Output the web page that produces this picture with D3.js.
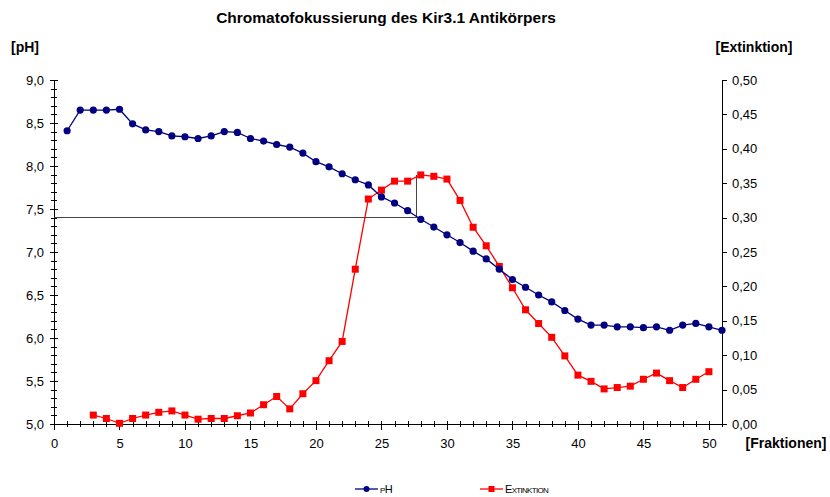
<!DOCTYPE html>
<head>
<meta charset="utf-8">
<script src="https://d3js.org/d3.v7.min.js"></script>
<style>
    *{ margin:0; padding:0; }
    body{ background:#fff; font-family:'Liberation Sans', Arial, sans-serif; }
    text{ fill:#000; }
    .axis path, .axis line{ stroke:#000; stroke-width:1; shape-rendering:crispEdges; }
    .axis text{ font-size:13px; }
</style>
</head>
<body>
<svg id="chart" width="830" height="497"></svg>
<script>

    //fractions and measured values
    let phFractions = d3.range(1, 52);
    let phValues = [8.41, 8.65, 8.65, 8.65, 8.66, 8.49, 8.42, 8.40, 8.35, 8.34,
        8.32, 8.35, 8.40, 8.39, 8.32, 8.29, 8.25, 8.22, 8.15, 8.05,
        7.99, 7.91, 7.84, 7.78, 7.64, 7.57, 7.48, 7.38, 7.29, 7.20,
        7.11, 7.01, 6.92, 6.80, 6.68, 6.59, 6.50, 6.42, 6.32, 6.22,
        6.15, 6.15, 6.13, 6.13, 6.12, 6.13, 6.09, 6.15, 6.17, 6.13, 6.09];

    let extFractions = d3.range(3, 51);
    let extValues = [0.013, 0.008, 0.001, 0.008, 0.013, 0.017, 0.019, 0.013, 0.007, 0.008,
        0.008, 0.012, 0.016, 0.028, 0.040, 0.022, 0.044, 0.063, 0.092, 0.120,
        0.225, 0.327, 0.340, 0.353, 0.353, 0.362, 0.360, 0.356, 0.325, 0.286,
        0.259, 0.229, 0.198, 0.166, 0.146, 0.126, 0.099, 0.071, 0.062, 0.051,
        0.053, 0.055, 0.065, 0.074, 0.063, 0.053, 0.065, 0.076];

    //ticks
    let xTicks = [0, 5, 10, 15, 20, 25, 30, 35, 40, 45, 50];
    let phTicks = [5.0, 5.5, 6.0, 6.5, 7.0, 7.5, 8.0, 8.5, 9.0];
    let extTicks = [0, 0.05, 0.10, 0.15, 0.20, 0.25, 0.30, 0.35, 0.40, 0.45, 0.50];

    //pH 7.4 marker
    let markPh = 7.4;
    let markFraction = 27.7;
    let markExt = 0.362;

    let svg = d3.select("#chart");

    let mLeft = 54, mRight = 722, mTop = 80, mBottom = 424;

    let x = d3.scaleLinear().domain([0, 51]).range([mLeft, mRight]);
    let yPh = d3.scaleLinear().domain([5, 9]).range([mBottom, mTop]);
    let yExt = d3.scaleLinear().domain([0, 0.5]).range([mBottom, mTop]);

    let de = d3.formatLocale({decimal: ",", thousands: ".", grouping: [3], currency: ["", "€"]});

    //left axis, minor ticks cross the line
    let gl = svg.append("g").attr("class", "axis").attr("transform", `translate(${mLeft},0)`);
    gl.call(d3.axisLeft(yPh).tickValues(d3.range(50, 91).map(d => d / 10)).tickFormat("").tickSize(3).tickSizeOuter(0));
    gl.selectAll(".tick line").attr("x1", 3);
    let glm = svg.append("g").attr("class", "axis").attr("transform", `translate(${mLeft},0)`);
    glm.call(d3.axisLeft(yPh).tickValues(phTicks).tickFormat(de.format(".1f")).tickSize(4).tickPadding(6).tickSizeOuter(0));
    glm.selectAll(".tick line").attr("x1", 4);
    glm.select(".domain").remove();

    //right axis
    let gr = svg.append("g").attr("class", "axis").attr("transform", `translate(${mRight},0)`);
    gr.call(d3.axisRight(yExt).tickValues(extTicks).tickFormat(de.format(".2f")).tickSize(5).tickPadding(5).tickSizeOuter(0));

    //bottom axis
    let gb = svg.append("g").attr("class", "axis").attr("transform", `translate(0,${mBottom})`);
    gb.call(d3.axisBottom(x).tickValues(d3.range(0, 52)).tickFormat("").tickSize(3).tickSizeOuter(0));
    gb.selectAll(".tick line").attr("y1", -3);
    let gbm = svg.append("g").attr("class", "axis").attr("transform", `translate(0,${mBottom})`);
    gbm.call(d3.axisBottom(x).tickValues(xTicks).tickSize(6).tickPadding(9).tickSizeOuter(0));
    gbm.selectAll(".tick line").attr("y1", -3);
    gbm.select(".domain").remove();

    //pH 7.4 guide lines
    svg.append("path")
        .attr("d", `M${mLeft},${yPh(markPh)}H${x(markFraction)}V${yExt(markExt)}`)
        .attr("fill", "none")
        .attr("stroke", "#444")
        .attr("stroke-width", 1)
        .attr("shape-rendering", "crispEdges");

    //extinction series
    let extData = extFractions.map((f, i) => [f, extValues[i]]);
    svg.append("path")
        .attr("d", d3.line().x(d => x(d[0])).y(d => yExt(d[1]))(extData))
        .attr("fill", "none").attr("stroke", "#ff0000").attr("stroke-width", 1.3);
    svg.selectAll("rect.ext").data(extData).enter().append("rect")
        .attr("class", "ext")
        .attr("x", d => x(d[0]) - 3.5).attr("y", d => yExt(d[1]) - 3.5)
        .attr("width", 7).attr("height", 7)
        .attr("fill", "#ff0000");

    //pH series
    let phData = phFractions.map((f, i) => [f, phValues[i]]);
    svg.append("path")
        .attr("d", d3.line().x(d => x(d[0])).y(d => yPh(d[1]))(phData))
        .attr("fill", "none").attr("stroke", "#000080").attr("stroke-width", 1.3);
    svg.selectAll("circle.ph").data(phData).enter().append("circle")
        .attr("class", "ph")
        .attr("cx", d => x(d[0])).attr("cy", d => yPh(d[1]))
        .attr("r", 3.6)
        .attr("fill", "#000080");

    //titles
    svg.append("text").attr("x", 386).attr("y", 23).attr("text-anchor", "middle")
        .style("font-size", "15.5px").style("font-weight", "bold")
        .text("Chromatofokussierung des Kir3.1 Antikörpers");
    svg.append("text").attr("x", 11).attr("y", 52)
        .style("font-size", "14px").style("font-weight", "bold").text("[pH]");
    svg.append("text").attr("x", 754).attr("y", 52).attr("text-anchor", "middle")
        .style("font-size", "14px").style("font-weight", "bold").text("[Extinktion]");
    svg.append("text").attr("x", 786).attr("y", 448).attr("text-anchor", "middle")
        .style("font-size", "14px").style("font-weight", "bold").text("[Fraktionen]");

    //legend
    let legend = [
        {name: "pH", color: "#000080", shape: "circle", x: 355},
        {name: "Extinktion", color: "#ff0000", shape: "square", x: 480}
    ];
    let lg = svg.selectAll("g.legend").data(legend).enter().append("g")
        .attr("class", "legend")
        .attr("transform", d => `translate(${d.x},489)`);
    lg.append("line").attr("x1", 0).attr("x2", 23).attr("stroke", d => d.color).attr("stroke-width", 1.3);
    lg.filter(d => d.shape == "circle").append("circle").attr("cx", 11.5).attr("r", 3).attr("fill", d => d.color);
    lg.filter(d => d.shape == "square").append("rect").attr("x", 8.5).attr("y", -3).attr("width", 6).attr("height", 6).attr("fill", d => d.color);
    lg.append("text").attr("x", 25).attr("y", 4)
        .style("font-size", "11px").style("font-variant", "small-caps").style("letter-spacing", "-0.7px")
        .text(d => d.name);

</script>
</body>
